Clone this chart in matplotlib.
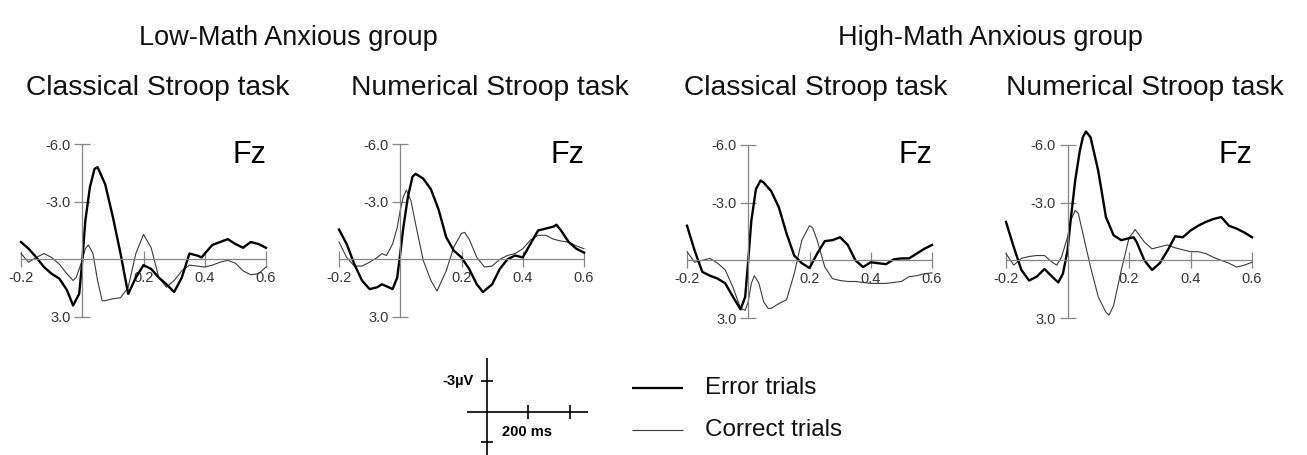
# ERP waveforms at Fz, error vs correct trials, for the two anxiety groups
import matplotlib.pyplot as plt
from matplotlib.lines import Line2D

plt.rcParams['font.family'] = ['Liberation Sans', 'DejaVu Sans']

# %%
# Data (time in s, amplitude in µV, negative is plotted up)
group_titles = ['Low-Math Anxious group', 'High-Math Anxious group']
task_titles = ['Classical Stroop task', 'Numerical Stroop task',
               'Classical Stroop task', 'Numerical Stroop task']
electrode = 'Fz'
x_ticks = [-0.2, 0.2, 0.4, 0.6]
y_ticks = [-6.0, -3.0, 3.0]
legend_labels = ['Error trials', 'Correct trials']
scale_labels = ['-3µV', '200 ms']

# low anxious, classical
p1_err_t = [-0.2, -0.175, -0.15, -0.125, -0.1, -0.075, -0.05, -0.03, -0.01, 0, 0.01, 0.025, 0.04, 0.05,
            0.075, 0.1, 0.125, 0.15, 0.175, 0.2, 0.225, 0.25, 0.275, 0.3, 0.325, 0.35, 0.375, 0.39, 0.4,
            0.425, 0.45, 0.475, 0.5, 0.525, 0.55, 0.575, 0.6]
p1_err = [-0.9, -0.55, -0.1, 0.4, 0.75, 1.0, 1.6, 2.4, 1.8, 0.1, -2.0, -3.75, -4.7, -4.8,
          -3.9, -2.2, -0.3, 1.8, 0.95, 0.3, 0.5, 0.95, 1.3, 1.7, 0.95, -0.3, -0.2, -0.1, -0.3,
          -0.75, -0.9, -1.05, -0.8, -0.6, -0.9, -0.8, -0.6]
p1_cor_t = [-0.2, -0.175, -0.15, -0.125, -0.1, -0.075, -0.05, -0.03, -0.02, 0, 0.01, 0.02, 0.035, 0.05,
            0.065, 0.075, 0.1, 0.125, 0.15, 0.175, 0.2, 0.225, 0.25, 0.275, 0.3, 0.325, 0.35, 0.375,
            0.4, 0.425, 0.45, 0.475, 0.5, 0.525, 0.55, 0.575, 0.6]
p1_cor = [-0.3, 0.15, -0.1, -0.3, -0.1, 0.25, 0.75, 1.1, 0.95, 0.05, -0.55, -0.75, -0.3, 1.1,
          2.15, 2.15, 2.05, 2.0, 1.45, -0.3, -1.3, -0.6, 0.95, 1.45, 1.1, 0.6, 0.3, 0.35,
          0.4, 0.3, 0.15, 0.05, 0.2, 0.6, 0.8, 0.75, 0.4]

# low anxious, numerical
p2_err_t = [-0.2, -0.175, -0.15, -0.125, -0.1, -0.075, -0.06, -0.045, -0.025, -0.01, 0, 0.01, 0.025,
            0.04, 0.05, 0.075, 0.1, 0.125, 0.15, 0.175, 0.2, 0.225, 0.25, 0.27, 0.3, 0.325, 0.35,
            0.375, 0.4, 0.425, 0.45, 0.475, 0.5, 0.51, 0.525, 0.55, 0.575, 0.6]
p2_err = [-1.55, -0.8, 0.25, 1.1, 1.55, 1.45, 1.3, 1.4, 1.55, 0.95, -0.3, -1.65, -3.25,
          -4.3, -4.45, -4.2, -3.65, -2.6, -1.15, -0.45, -0.1, 0.5, 1.3, 1.7, 1.3, 0.5, 0.0,
          -0.2, -0.1, -0.8, -1.5, -1.6, -1.7, -1.8, -1.5, -0.9, -0.55, -0.35]
p2_cor_t = [-0.2, -0.175, -0.15, -0.125, -0.1, -0.075, -0.06, -0.045, -0.025, -0.01, 0, 0.01, 0.02,
            0.035, 0.05, 0.075, 0.1, 0.12, 0.15, 0.175, 0.2, 0.21, 0.225, 0.25, 0.275, 0.3, 0.325,
            0.35, 0.375, 0.4, 0.425, 0.45, 0.475, 0.5, 0.525, 0.55, 0.575, 0.6]
p2_cor = [-0.9, -0.1, 0.35, 0.35, 0.15, -0.1, -0.3, -0.2, -0.8, -1.65, -2.55, -3.25, -3.6,
          -3.05, -1.85, 0.05, 1.1, 1.65, 0.6, -0.65, -1.35, -1.4, -1.05, -0.1, 0.4, 0.35, 0.0,
          -0.2, -0.3, -0.55, -1.0, -1.25, -1.25, -1.05, -0.95, -0.9, -0.7, -0.55]

# high anxious, classical
p3_err_t = [-0.2, -0.175, -0.15, -0.125, -0.1, -0.075, -0.05, -0.025, -0.01, 0, 0.01, 0.025, 0.04,
            0.05, 0.075, 0.1, 0.125, 0.15, 0.175, 0.2, 0.225, 0.25, 0.275, 0.3, 0.325, 0.35, 0.375,
            0.4, 0.425, 0.45, 0.475, 0.5, 0.525, 0.55, 0.575, 0.6]
p3_err = [-1.8, -0.5, 0.6, 0.8, 0.95, 1.2, 1.9, 2.55, 1.9, 0.0, -2.05, -3.7, -4.15,
          -4.05, -3.6, -2.75, -1.4, -0.25, 0.15, 0.4, -0.35, -1.0, -1.05, -1.2, -0.8, 0.0, 0.35,
          0.1, 0.15, 0.2, -0.05, -0.1, -0.1, -0.35, -0.6, -0.8]
p3_cor_t = [-0.2, -0.175, -0.15, -0.125, -0.1, -0.075, -0.05, -0.025, -0.01, 0, 0.01, 0.02, 0.035,
            0.05, 0.065, 0.075, 0.1, 0.125, 0.15, 0.175, 0.2, 0.21, 0.225, 0.25, 0.275, 0.3, 0.325,
            0.35, 0.4, 0.45, 0.5, 0.525, 0.55, 0.575, 0.6]
p3_cor = [-0.45, 0.1, 0.0, -0.1, 0.15, 0.5, 1.4, 2.5, 2.6, 2.15, 1.2, 0.8, 1.2,
          2.15, 2.5, 2.5, 2.25, 2.05, 0.7, -1.05, -1.8, -1.7, -1.05, 0.35, 0.95, 1.05, 1.1,
          1.1, 1.2, 1.2, 1.1, 0.85, 0.8, 0.7, 0.65]

# high anxious, numerical
p4_err_t = [-0.2, -0.175, -0.15, -0.125, -0.1, -0.075, -0.05, -0.03, -0.015, 0, 0.01, 0.025, 0.04,
            0.05, 0.06, 0.075, 0.1, 0.125, 0.15, 0.175, 0.2, 0.215, 0.225, 0.25, 0.275, 0.3, 0.325,
            0.35, 0.375, 0.4, 0.425, 0.45, 0.475, 0.5, 0.525, 0.55, 0.575, 0.6]
p4_err = [-2.0, -0.7, 0.5, 1.05, 0.85, 0.45, 0.85, 1.15, 0.7, -0.5, -2.05, -4.15, -5.7,
          -6.4, -6.7, -6.4, -4.65, -2.25, -1.3, -1.05, -1.15, -1.2, -0.95, 0.0, 0.5, 0.15, -0.5,
          -1.25, -1.2, -1.55, -1.8, -2.0, -2.15, -2.25, -1.8, -1.65, -1.45, -1.2]
p4_cor_t = [-0.2, -0.175, -0.15, -0.125, -0.1, -0.075, -0.05, -0.035, -0.02, 0, 0.01, 0.025, 0.035,
            0.05, 0.075, 0.1, 0.125, 0.135, 0.15, 0.175, 0.2, 0.22, 0.25, 0.275, 0.3, 0.325, 0.35,
            0.375, 0.4, 0.425, 0.45, 0.475, 0.5, 0.525, 0.55, 0.575, 0.6]
p4_cor = [-0.35, 0.25, -0.1, -0.2, -0.25, -0.25, 0.1, 0.25, -0.15, -1.2, -2.05, -2.6, -2.45,
          -1.4, 0.35, 1.9, 2.7, 2.85, 2.35, 0.5, -1.15, -1.6, -0.95, -0.6, -0.7, -0.8, -0.65,
          -0.55, -0.45, -0.45, -0.35, -0.15, 0.0, 0.15, 0.35, 0.25, 0.1]

# %%
# Layout in pixels of the 1307x455 figure
W, H = 1307, 455
AXIS_GREY = '#858585'
ERR_COLOR = 'black'
COR_COLOR = '#3a3a3a'

panels = [
    ((p1_err_t, p1_err), (p1_cor_t, p1_cor), (21, 266, 144, 317)),
    ((p2_err_t, p2_err), (p2_cor_t, p2_cor), (339, 584, 144, 317)),
    ((p3_err_t, p3_err), (p3_cor_t, p3_cor), (687, 932, 145, 318)),
    ((p4_err_t, p4_err), (p4_cor_t, p4_cor), (1006, 1252, 145, 318)),
]
subtitle_x = [158, 490, 816, 1145]
group_x = [288, 990]


def fx(px):
    return px / W


def fy(py):
    return 1 - py / H


def fig_line(fig, xs, ys, lw, color='black'):
    """draw a line given in pixel coords directly on the figure"""
    fig.add_artist(Line2D([fx(x) for x in xs], [fy(y) for y in ys], lw=lw, color=color,
                          solid_capstyle='butt'))


def erp_axes(fig, box):
    """axes with cross-shaped axis lines through (0, 0), negative up"""
    x0, x1, ytop, ybot = box
    ax = fig.add_axes([fx(x0), fy(ybot), (x1 - x0) / W, (ybot - ytop) / H])
    ax.patch.set_visible(False)
    ax.set_xlim(-0.2, 0.6)
    ax.set_ylim(3.0, -6.0)
    for side in ['top', 'right']:
        ax.spines[side].set_visible(False)
    ax.spines['left'].set_position(('data', 0))
    ax.spines['bottom'].set_position(('data', 0))
    for side in ['left', 'bottom']:
        ax.spines[side].set_color(AXIS_GREY)
        ax.spines[side].set_linewidth(0.9)
    ax.set_xticks(x_ticks)
    ax.set_xticklabels(['%.1f' % v for v in x_ticks])
    ax.set_yticks(y_ticks)
    ax.set_yticklabels(['%.1f' % v for v in y_ticks])
    ax.tick_params(direction='inout', length=11, width=0.9, color=AXIS_GREY,
                   labelsize=10.5, labelcolor='#333333', pad=3)
    return ax


fig = plt.figure(figsize=(W / 100, H / 100), dpi=100)

for (err, cor, box), title in zip(panels, task_titles):
    ax = erp_axes(fig, box)
    ax.plot(cor[0], cor[1], color=COR_COLOR, lw=0.8, clip_on=False)
    ax.plot(err[0], err[1], color=ERR_COLOR, lw=1.7, clip_on=False)
    fig.text(fx(box[1] - 17), fy(155), electrode, fontsize=22, ha='center', va='center')

for x, title in zip(subtitle_x, task_titles):
    fig.text(fx(x), fy(88), title, fontsize=20.3, ha='center', va='center', color='#111111')

for x, title in zip(group_x, group_titles):
    fig.text(fx(x), fy(38), title, fontsize=19.5, ha='center', va='center', color='#111111')

# legend
fig_line(fig, [632, 683], [388, 388], 1.6, ERR_COLOR)
fig_line(fig, [632, 683], [430, 430], 0.8, COR_COLOR)
fig.text(fx(705), fy(388), legend_labels[0], fontsize=17.5, ha='left', va='center', color='#111111')
fig.text(fx(705), fy(430), legend_labels[1], fontsize=17.5, ha='left', va='center', color='#111111')

# scale bar
fig_line(fig, [487, 487], [358, 455], 1.2)
fig_line(fig, [467, 588], [412, 412], 1.2)
for y in [381, 442]:
    fig_line(fig, [481, 493], [y, y], 1.2)
for x in [528, 570]:
    fig_line(fig, [x, x], [405, 419], 1.2)
fig.text(fx(474), fy(381), scale_labels[0], fontsize=10.5, fontweight='bold', ha='right', va='center')
fig.text(fx(527), fy(432), scale_labels[1], fontsize=10.5, fontweight='bold', ha='center', va='center')

plt.savefig('out.png', dpi=100)
